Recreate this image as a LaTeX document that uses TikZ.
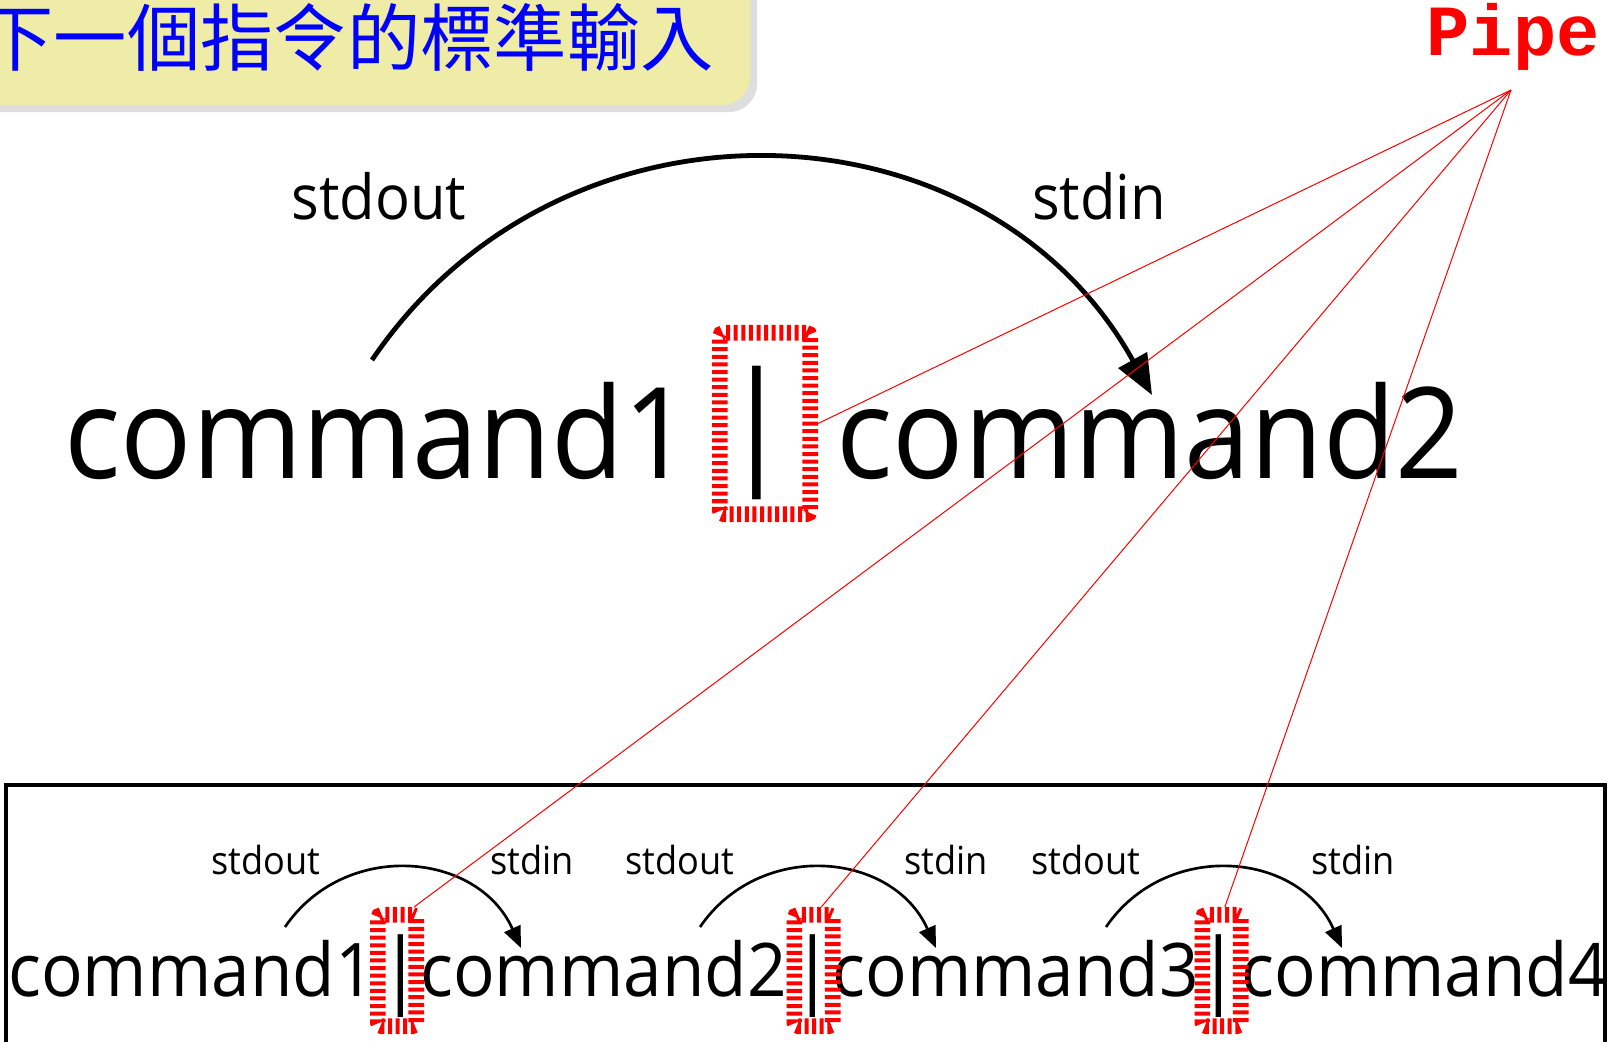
\documentclass[tikz,border=0pt]{standalone}
\usepackage{fontspec}
\usetikzlibrary{arrows.meta}
\newfontfamily\cmdfont[FakeStretch=0.935]{Open Sans}
\newfontfamily\pipefont{Liberation Mono}
\newfontfamily\cjkfont{Noto Sans CJK TC}
\definecolor{bannerfill}{RGB}{238,236,166}
\definecolor{bannershadow}{RGB}{222,222,222}
\definecolor{titleblue}{RGB}{0,0,255}

\tikzset{
  pipebox/.style={draw=red, line width=11.8pt, dash pattern=on 3pt off 2.7pt,
    rounded corners=3pt, inner sep=0pt},
  pointer/.style={draw=red, line width=0.75pt},
  bigflow/.style={draw=black, line width=3.6pt, -{Triangle[length=30pt,width=24pt]}},
  smallflow/.style={draw=black, line width=2pt, -{Triangle[length=16pt,width=13pt]}},
  bigcmd/.style={font=\cmdfont\fontsize{95}{100}\selectfont, anchor=base west, inner sep=0pt},
  smallcmd/.style={font=\cmdfont\fontsize{55.5}{60}\selectfont, anchor=base west, inner sep=0pt},
  bigbar/.style={font=\cmdfont\fontsize{100}{100}\selectfont, inner sep=0pt},
  smallbar/.style={font=\cmdfont\fontsize{62}{62}\selectfont, inner sep=0pt},
  biglabel/.style={font=\cmdfont\fontsize{46.5}{50}\selectfont, anchor=base, inner sep=0pt},
  smalllabel/.style={font=\cmdfont\fontsize{29}{32}\selectfont, anchor=base, inner sep=0pt},
}

\begin{document}
\begin{tikzpicture}[x=0.75pt,y=-0.75pt]
\useasboundingbox (0,0) rectangle (1613,1042);
\clip (0,0) rectangle (1613,1042);
\fill[white] (0,0) rectangle (1613,1042);

% title banner with its shadow
\fill[bannershadow, rounded corners=21pt] (-60,-60) rectangle (757,112);
\fill[bannerfill, rounded corners=21pt] (-60,-60) rectangle (750,105);
\node[font=\cjkfont\fontsize{55}{60}\selectfont, text=titleblue, anchor=east, inner sep=0pt]
  (title) at (714,37) {下一個指令的標準輸入};

% label and the point where the pointers meet
\node[font=\pipefont\bfseries\fontsize{54}{60}\selectfont, text=red, anchor=base, inner sep=0pt]
  (pipelabel) at (1513,55) {Pipe};
\coordinate (hub) at (1511,90);

% large two-command example
\node[bigcmd] (cmdA) at (64,478) {command1};
\node[bigbar] (barA) at (757,433) {|};
\node[bigcmd] (cmdB) at (836,478) {command2};
\node[biglabel] (outA) at (379,219) {stdout};
\node[biglabel] (inA) at (1099,219) {stdin};
\coordinate (arcA-s) at (372,360);
\coordinate (arcA-e) at (1152,395);
\draw[bigflow] (arcA-s) .. controls +(191.4,-282.3) and +(-165.4,-298.4) .. (arcA-e);
\node[pipebox, minimum width=67.7pt, minimum height=136pt] (boxA) at (765,423.5) {};

% frame around the four-command example
\draw[line width=2.4pt] (6,1070) -- (6,785) -- (1605,785) -- (1605,1070);

% four-command example
\node[smallcmd] (c1) at (8,996) {command1};
\node[smallcmd] (c2) at (420,996) {command2};
\node[smallcmd] (c3) at (832,996) {command3};
\node[smallcmd] (c4) at (1241,996) {command4};
\node[smallbar] (bar1) at (401,976) {|};
\node[smallbar] (bar2) at (813,976) {|};
\node[smallbar] (bar3) at (1219,976) {|};

\node[smalllabel] (out1) at (266,874) {stdout};
\node[smalllabel] (in1) at (532,874) {stdin};
\node[smalllabel] (out2) at (680,874) {stdout};
\node[smalllabel] (in2) at (946,874) {stdin};
\node[smalllabel] (out3) at (1086,874) {stdout};
\node[smalllabel] (in3) at (1353,874) {stdin};

\coordinate (arc1-s) at (285,927);  \coordinate (arc1-e) at (521,948);
\coordinate (arc2-s) at (700,927);  \coordinate (arc2-e) at (936,948);
\coordinate (arc3-s) at (1106,927); \coordinate (arc3-e) at (1342,948);
\foreach \i in {1,2,3}{
  \draw[smallflow] (arc\i-s) .. controls +(59.8,-87.6) and +(-43.3,-96.9) .. (arc\i-e);
}

\node[pipebox, minimum width=28.7pt, minimum height=83.5pt] (box1) at (397,970.5) {};
\node[pipebox, minimum width=28.7pt, minimum height=83.5pt] (box2) at (813.5,970.5) {};
\node[pipebox, minimum width=28.7pt, minimum height=83.5pt] (box3) at (1221.5,970.5) {};

% pointers from the label to each pipe symbol
\draw[pointer] (hub) -- (boxA.east);
\draw[pointer] (hub) -- (box1.75);
\draw[pointer] (hub) -- (box2.83);
\draw[pointer] (hub) -- (box3.87);
\end{tikzpicture}
\end{document}
